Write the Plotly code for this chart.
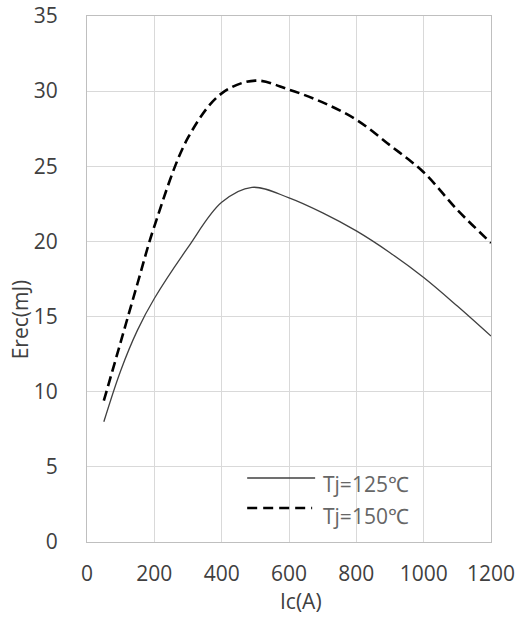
import plotly.graph_objects as go

# ---- data ----
ic_125 = [50, 100, 150, 200, 300, 400, 490, 600, 700, 800, 900, 1000, 1100, 1200]
erec_125 = [8.0, 11.4, 14.1, 16.2, 19.6, 22.6, 23.6, 22.9, 21.9, 20.7, 19.25, 17.6, 15.7, 13.7]

ic_150 = [50, 100, 150, 200, 300, 400, 500, 600, 700, 800, 900, 1000, 1100, 1200]
erec_150 = [9.4, 13.3, 17.2, 21.0, 26.9, 29.85, 30.7, 30.1, 29.25, 28.1, 26.4, 24.6, 22.1, 19.9]

series_names = ["Tj=125℃", "Tj=150℃"]
x_ticks = [0, 200, 400, 600, 800, 1000, 1200]
y_ticks = [0, 5, 10, 15, 20, 25, 30, 35]

FONT = "Open Sans"
TICK_COLOR = "#404040"
LEG_COLOR = "#666666"

fig = go.Figure()
fig.add_trace(go.Scatter(
    x=ic_125, y=erec_125, mode="lines", name=series_names[0],
    line=dict(color="#404040", width=1.3, shape="spline", smoothing=1.0),
    showlegend=False,
))
fig.add_trace(go.Scatter(
    x=ic_150, y=erec_150, mode="lines", name=series_names[1],
    line=dict(color="#000000", width=2.6, dash="10px,5px", shape="spline", smoothing=1.0),
    showlegend=False,
))

# plot area in pixels: x 86.7..491, y 16..542
L, R, T, B = 86.7, 491.0, 16.0, 542.0
W, H = R - L, B - T

def px(xp):
    return (xp - L) / W

def py(yp):
    return (B - yp) / H

shapes = [
    # legend background (covers gridlines)
    dict(type="rect", xref="paper", yref="paper", x0=px(200), x1=px(457), y0=py(525), y1=py(460),
         fillcolor="white", line=dict(width=0), layer="between"),
    dict(type="line", xref="paper", yref="paper", x0=px(247), x1=px(315), y0=py(478), y1=py(478),
         line=dict(color="#404040", width=1.5), layer="above"),
    dict(type="line", xref="paper", yref="paper", x0=px(247), x1=px(312), y0=py(508), y1=py(508),
         line=dict(color="#000000", width=2.6, dash="10px,6px"), layer="above"),
]

annotations = [
    dict(text=series_names[0], xref="paper", yref="paper", x=px(321), y=py(484),
         xanchor="left", yanchor="middle", showarrow=False,
         font=dict(family=FONT, size=21, color=LEG_COLOR)),
    dict(text=series_names[1], xref="paper", yref="paper", x=px(321), y=py(516),
         xanchor="left", yanchor="middle", showarrow=False,
         font=dict(family=FONT, size=21, color=LEG_COLOR)),
    dict(text="Erec(mJ)", xref="paper", yref="paper", x=px(20), y=py(319),
         xanchor="center", yanchor="middle", showarrow=False, textangle=-90,
         font=dict(family=FONT, size=21, color=TICK_COLOR)),
    dict(text="Ic(A)", xref="paper", yref="paper", x=px(301), y=py(601),
         xanchor="center", yanchor="middle", showarrow=False,
         font=dict(family=FONT, size=21, color=TICK_COLOR)),
]

fig.update_layout(
    width=518, height=617, autosize=False,
    margin=dict(l=L, r=518 - R, t=T, b=617 - B, pad=0, autoexpand=False),
    paper_bgcolor="white", plot_bgcolor="white",
    font=dict(family=FONT, size=21, color=TICK_COLOR),
    shapes=shapes, annotations=annotations,
    showlegend=False,
)
fig.update_xaxes(
    range=[0, 1200], tickvals=x_ticks, ticktext=[str(v) for v in x_ticks],
    showgrid=True, gridcolor="#d9d9d9", gridwidth=1,
    showline=True, linecolor="#bfbfbf", linewidth=1, mirror=True,
    zeroline=False, ticks="", ticklabelstandoff=13, automargin=False,
    tickfont=dict(family=FONT, size=21, color=TICK_COLOR),
)
fig.update_yaxes(
    range=[0, 35], tickvals=y_ticks, ticktext=[str(v) for v in y_ticks],
    showgrid=True, gridcolor="#d9d9d9", gridwidth=1,
    showline=True, linecolor="#bfbfbf", linewidth=1, mirror=True,
    zeroline=False, ticks="", ticklabelstandoff=24, automargin=False,
    tickfont=dict(family=FONT, size=21, color=TICK_COLOR),
)

fig.write_html(
    "out.html",
    config={"displayModeBar": False},
    post_script="document.body.style.margin='0px';document.body.style.overflow='hidden';",
)
